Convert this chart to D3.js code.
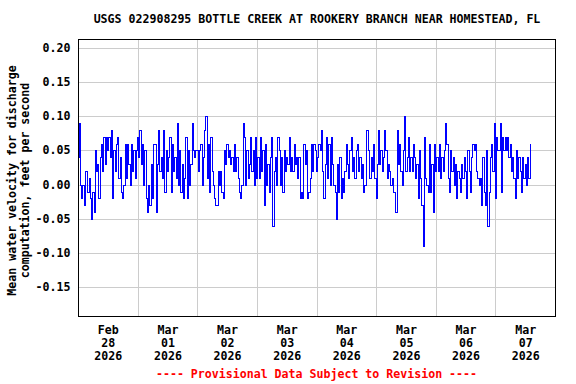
<!DOCTYPE html>
<html>
<head>
<meta charset="utf-8">
<script src="https://cdn.jsdelivr.net/npm/d3@7"></script>
<style>
  html, body { margin: 0; padding: 0; background: #ffffff; }
  svg { display: block; }
  text { font-family: "DejaVu Sans Mono", "Liberation Mono", monospace; font-weight: bold; }
</style>
</head>
<body>
<svg id="chart" width="576" height="384"></svg>
<script>
// ---- Data ----
const titleText = "USGS 022908295 BOTTLE CREEK AT ROOKERY BRANCH NEAR HOMESTEAD, FL";
const yLabelLines = ["Mean water velocity for discharge", "computation, feet per second"];
const footerText = "---- Provisional Data Subject to Revision ----";
const seriesStart = "2026-02-28T00:00:00Z";   // first reading
const seriesStepMinutes = 30;                    // reading interval
// Mean water velocity, hundredths of ft/s, one value per 30 minutes
const velocityHundredths = [
  4, 9, 0, -2, 0, -3, 2, 2, -1, 1, -2, -5, -1, -4, 5, 2, 3, -2, 4, 6,
  2, 7, 3, 7, 5, 7, 4, 8, -2, 5, 2, 6, 7, 1, 4, -1, -2, 0, 6, 1,
  6, 3, 0, 6, 2, 5, 1, 5, 7, 4, 8, 3, 6, 0, 5, -2, -4, 0, -3, 3,
  -2, 6, 6, -4, 3, 8, 2, 4, 1, 8, -1, 5, 2, 4, 7, -1, 6, 2, 4, 1,
  9, 0, 5, -1, 3, -2, 1, 7, -2, 5, 0, 3, 9, 5, 4, 5, 5, 2, 5, 6,
  0, 4, 8, 10, 1, 6, -1, 7, 2, 0, -2, -3, -3, 2, 0, 2, -1, -2, 5, 3,
  6, 4, 5, 3, 4, 2, 6, 2, 4, 1, -1, -2, 0, 9, 7, 0, 5, 1, 3, 7,
  2, 5, 0, 7, 1, 4, 1, 7, 2, 5, -3, 6, 0, 3, -1, 4, 7, -6, 2, 4,
  0, 7, 5, 0, 4, -1, 5, 2, 4, 3, 7, 2, 4, 2, 6, 3, 4, 1, 4, -2,
  -1, -2, 6, 3, 5, -2, -1, 1, 6, 2, 6, 5, 2, 4, 6, 5, 8, 2, -2, 3,
  7, 1, 6, 0, 7, 3, 0, -1, -5, 3, -1, 4, -2, 1, -1, 2, 6, 3, 1, 5,
  7, 2, 4, 1, 5, 6, 2, 4, 1, 3, -1, 0, 8, 8, 5, 1, 4, 2, 6, 1,
  -2, 3, 8, 3, 5, 2, 4, 8, 5, 1, 3, 2, 0, 1, -1, -1, -4, 8, 3, 6,
  2, 0, 5, 10, 2, 4, 7, 2, 4, 2, 6, 4, 1, 3, -2, 5, 1, -3, -9, 7,
  1, 0, -1, 6, -1, 3, -4, 6, 2, 4, 2, 6, 1, 4, 2, 5, 9, 6, 1, -1,
  5, 2, 4, 0, 3, -2, 2, 1, -1, 3, 1, 4, 2, -2, 5, 2, -1, 4, 6, 5,
  6, 2, 1, 0, 1, -3, 4, -1, -3, 5, -6, -1, 4, 6, 2, 9, -2, 7, 5, 5,
  9, -1, 7, 5, 7, 5, 7, 4, 6, 2, 4, 1, -2, 5, 1, 4, 2, -1, 4, 1,
  3, 0, 4, 1, 6
];
const yTickValues = [-0.15, -0.10, -0.05, 0.00, 0.05, 0.10, 0.15, 0.20];
const yDomain = [-0.192, 0.213];
const xDomain = ["2026-02-28T00:00:00Z", "2026-03-08T00:00:00Z"];
const dayGridDates = ["2026-03-01", "2026-03-02", "2026-03-03", "2026-03-04", "2026-03-05", "2026-03-06", "2026-03-07"];
const dayLabelDates = ["2026-02-28", "2026-03-01", "2026-03-02", "2026-03-03", "2026-03-04", "2026-03-05", "2026-03-06", "2026-03-07"];

// ---- Build ----
const startMs = Date.parse(seriesStart);
const data = velocityHundredths.map((v, i) => ({
  t: new Date(startMs + i * seriesStepMinutes * 60000),
  v: v / 100
}));

const W = 576, H = 384;
const M = { left: 78, top: 39, right: 555, bottom: 316 };
const svg = d3.select("#chart");

const x = d3.scaleUtc().domain(xDomain.map(d => new Date(d))).range([M.left + 0.5, M.right + 0.5]);
const y = d3.scaleLinear().domain(yDomain).range([M.bottom + 0.5, M.top + 0.5]);

// Horizontal gridlines + y tick labels
const yAxis = d3.axisLeft(y)
  .tickValues(yTickValues)
  .tickSize(-(M.right - M.left))
  .tickPadding(8)
  .tickFormat(d => d.toFixed(2));
const gy = svg.append("g").attr("transform", `translate(${M.left + 0.5},0)`).call(yAxis);
gy.select(".domain").remove();
gy.selectAll(".tick line").attr("stroke", "#cccccc").attr("stroke-width", 1);
gy.selectAll(".tick").attr("transform", d => `translate(0,${Math.round(y(d) - 0.5) + 0.5})`);
gy.selectAll(".tick text")
  .attr("x", -8)
  .attr("fill", "#000")
  .style("font-size", "11.6px")
  .style("font-family", "'DejaVu Sans Mono', monospace")
  .style("font-weight", "bold");

// Vertical gridlines at midnight
const xGrid = d3.axisBottom(x)
  .tickValues(dayGridDates.map(d => new Date(d + "T00:00:00Z")))
  .tickSize(-(M.bottom - M.top))
  .tickFormat("");
const gx = svg.append("g").attr("transform", `translate(0,${M.bottom + 0.5})`).call(xGrid);
gx.select(".domain").remove();
gx.selectAll(".tick line").attr("stroke", "#cccccc").attr("stroke-width", 1);
gx.selectAll(".tick").attr("transform", d => `translate(${Math.round(x(d) - 0.5) + 0.5},0)`);

// Data line
svg.append("defs").append("clipPath").attr("id", "clip")
  .append("rect").attr("x", M.left).attr("y", M.top).attr("width", M.right - M.left + 1).attr("height", M.bottom - M.top + 1);
const line = d3.line().curve(d3.curveStep).x(d => x(d.t)).y(d => y(d.v));
svg.append("path")
  .datum(data)
  .attr("clip-path", "url(#clip)")
  .attr("fill", "none")
  .attr("stroke", "#0000ff")
  .attr("stroke-width", 1)
  .attr("shape-rendering", "crispEdges")
  .attr("d", line);

// Plot border
svg.append("rect")
  .attr("x", M.left + 0.5).attr("y", M.top + 0.5)
  .attr("width", M.right - M.left).attr("height", M.bottom - M.top)
  .attr("fill", "none").attr("stroke", "#000").attr("stroke-width", 1);

// X labels at noon
const monFmt = d3.utcFormat("%b"), dayFmt = d3.utcFormat("%d"), yrFmt = d3.utcFormat("%Y");
const xl = svg.append("g").selectAll("text")
  .data(dayLabelDates.map(d => new Date(d + "T12:00:00Z")))
  .join("text")
  .attr("text-anchor", "middle")
  .style("font-size", "11.6px")
  .attr("fill", "#000");
xl.append("tspan").attr("x", d => x(d)).attr("y", 334).text(d => monFmt(d));
xl.append("tspan").attr("x", d => x(d)).attr("y", 347).text(d => dayFmt(d));
xl.append("tspan").attr("x", d => x(d)).attr("y", 360).text(d => yrFmt(d));

// Title
svg.append("text")
  .attr("x", (M.left + M.right) / 2 + 0.5).attr("y", 23)
  .attr("text-anchor", "middle")
  .style("font-size", "11.6px")
  .attr("fill", "#000")
  .text(titleText);

// Y axis label (two lines)
const yl = svg.append("text")
  .attr("transform", `translate(0,${(M.top + M.bottom) / 2 + 3}) rotate(-90)`)
  .attr("text-anchor", "middle")
  .style("font-size", "11.6px")
  .attr("fill", "#000");
yl.selectAll("tspan").data(yLabelLines).join("tspan")
  .attr("x", 0).attr("y", (d, i) => 16 + i * 13)
  .text(d => d);

// Footer
svg.append("text")
  .attr("x", (M.left + M.right) / 2).attr("y", 378)
  .attr("text-anchor", "middle")
  .style("font-size", "11.6px")
  .attr("fill", "#ff0000")
  .text(footerText);
</script>
</body>
</html>
